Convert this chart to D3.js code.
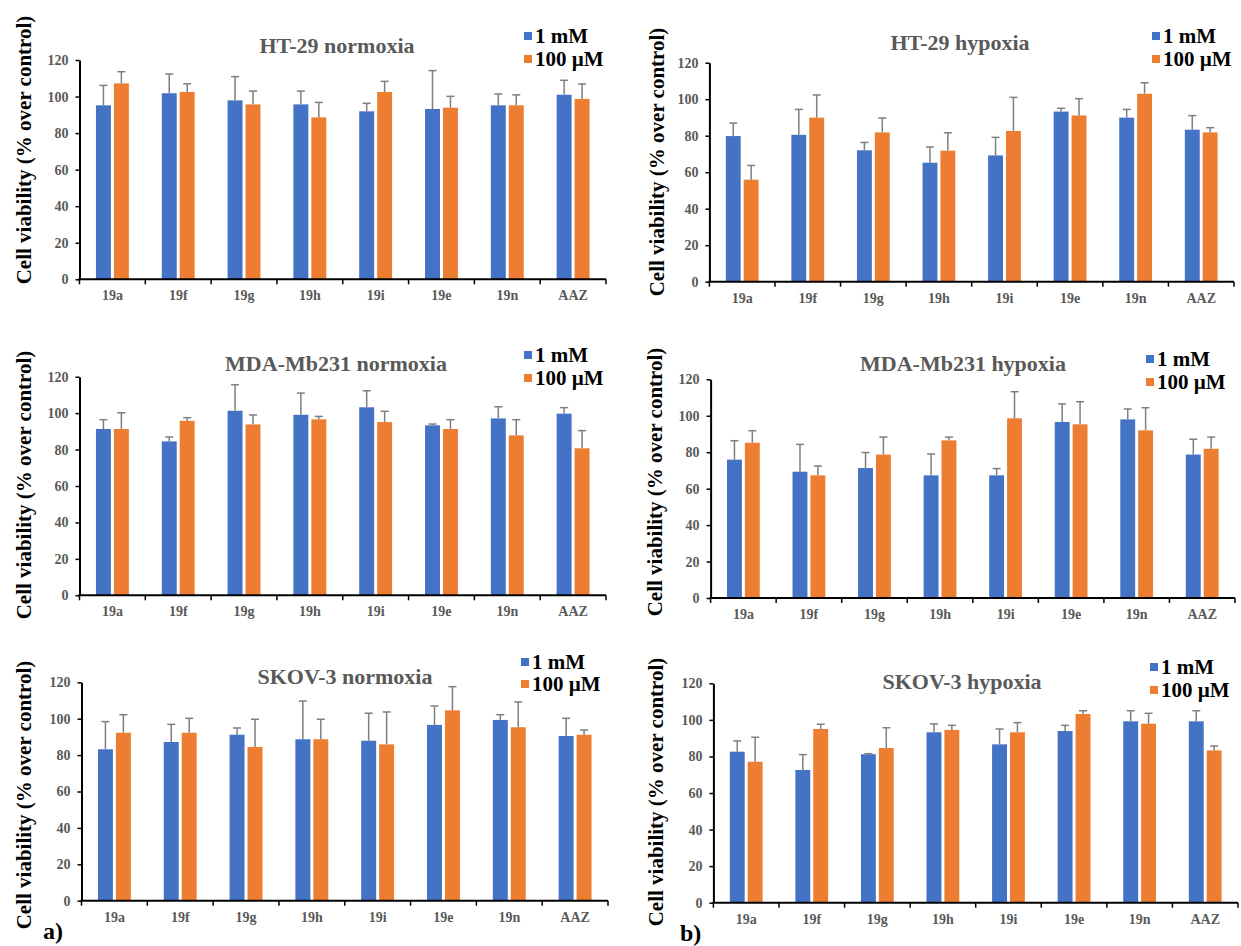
<!DOCTYPE html>
<html>
<head>
<meta charset="utf-8">
<script src="https://cdn.jsdelivr.net/npm/d3@7"></script>
<style>
  html, body { margin: 0; padding: 0; background: #fff; }
  svg { display: block; }
  svg text { font-family: "Liberation Serif", "Times New Roman", "DejaVu Serif", serif; font-weight: bold; }
</style>
</head>
<body>
<svg id="chart" width="1241" height="946"></svg>
<script>
// ---------- data ----------
const categories = ["19a", "19f", "19g", "19h", "19i", "19e", "19n", "AAZ"];
const seriesNames = ["1 mM", "100 µM"];
const yTicks = [0, 20, 40, 60, 80, 100, 120];
const panelTitles = ["HT-29 normoxia", "HT-29 hypoxia", "MDA-Mb231 normoxia", "MDA-Mb231 hypoxia", "SKOV-3 normoxia", "SKOV-3 hypoxia"];
const yAxisTitle = "Cell viability (% over control)";
const panelLetters = ["a)", "b)"];

// HT-29 normoxia
const ht29Norm1mM      = [95.2, 101.8, 97.9, 95.7, 91.9, 93.2, 95.2, 101.0];
const ht29Norm1mMErr   = [10.9, 10.5, 13.0, 7.3, 4.4, 21.0, 6.2, 7.9];
const ht29Norm100uM    = [107.2, 102.5, 95.7, 88.6, 102.5, 93.9, 95.2, 98.7];
const ht29Norm100uMErr = [6.4, 4.5, 7.3, 8.2, 5.8, 6.2, 5.7, 8.2];
// HT-29 hypoxia
const ht29Hyp1mM       = [79.8, 80.5, 72.0, 65.2, 69.2, 93.2, 89.9, 83.3];
const ht29Hyp1mMErr    = [7.1, 13.9, 4.3, 8.6, 9.9, 1.8, 4.5, 7.7];
const ht29Hyp100uM     = [55.9, 89.9, 81.8, 71.8, 82.6, 91.1, 103.0, 81.8];
const ht29Hyp100uMErr  = [7.8, 12.4, 7.9, 9.8, 18.4, 9.2, 6.0, 2.6];
// MDA-Mb231 normoxia
const mdaNorm1mM       = [91.3, 84.5, 101.3, 99.1, 103.2, 93.3, 97.1, 99.7];
const mdaNorm1mMErr    = [5.1, 2.4, 14.3, 11.9, 9.1, 0.7, 6.4, 3.3];
const mdaNorm100uM     = [91.3, 95.8, 93.8, 96.6, 95.1, 91.3, 87.8, 80.7];
const mdaNorm100uMErr  = [8.9, 1.7, 5.2, 1.6, 5.9, 5.1, 8.6, 9.7];
// MDA-Mb231 hypoxia
const mdaHyp1mM        = [75.9, 69.3, 71.3, 67.3, 67.3, 96.6, 98.0, 78.7];
const mdaHyp1mMErr     = [10.4, 15.0, 8.5, 11.7, 3.7, 9.9, 5.7, 8.4];
const mdaHyp100uM      = [85.2, 67.3, 78.7, 86.5, 98.6, 95.3, 92.0, 81.9];
const mdaHyp100uMErr   = [6.6, 5.1, 9.6, 1.8, 14.6, 12.4, 12.4, 6.4];
// SKOV-3 normoxia
const skovNorm1mM      = [83.2, 87.2, 91.2, 88.7, 87.9, 96.6, 99.3, 90.5];
const skovNorm1mMErr   = [15.2, 9.7, 3.7, 21.0, 15.1, 10.4, 2.9, 9.7];
const skovNorm100uM    = [92.3, 92.3, 84.5, 88.7, 85.9, 104.6, 95.3, 91.2];
const skovNorm100uMErr = [9.9, 7.9, 15.2, 11.0, 17.8, 13.0, 13.9, 2.6];
// SKOV-3 hypoxia
const skovHyp1mM       = [82.6, 72.6, 81.2, 93.2, 86.6, 93.9, 99.2, 99.2];
const skovHyp1mMErr    = [5.9, 8.4, 0.3, 4.6, 8.4, 3.1, 5.8, 5.8];
const skovHyp100uM     = [77.1, 95.0, 84.6, 94.5, 93.2, 103.2, 97.9, 83.3];
const skovHyp100uMErr  = [13.4, 2.6, 11.1, 2.5, 5.3, 1.8, 5.7, 2.4];

// ---------- layout (positions only) ----------
const FONT = "'Liberation Serif', 'Times New Roman', 'DejaVu Serif', serif";
const colors = ["#4472C4", "#ED7D31"];
const layouts = [
  {left: 79.5,  right: 606,  top: 60,    bottom: 279.3, titleX: 337, titleY: 45,  legX: 524,  legY1: 36,  legY2: 59,  yTitleX: 24,  yTitleY: 150},
  {left: 709.4, right: 1234, top: 62.7,  bottom: 281.7, titleX: 960, titleY: 42,  legX: 1152, legY1: 36,  legY2: 59,  yTitleX: 657, yTitleY: 162},
  {left: 79.5,  right: 606,  top: 376.7, bottom: 595.3, titleX: 336, titleY: 363, legX: 524,  legY1: 355, legY2: 378, yTitleX: 24,  yTitleY: 485},
  {left: 710.6, right: 1235, top: 379.3, bottom: 598,   titleX: 963, titleY: 363, legX: 1146, legY1: 359, legY2: 382, yTitleX: 655, yTitleY: 482},
  {left: 81.5,  right: 608,  top: 682.3, bottom: 900.7, titleX: 345, titleY: 676, legX: 521,  legY1: 662, legY2: 684, yTitleX: 24,  yTitleY: 795},
  {left: 713.4, right: 1238, top: 683.3, bottom: 902.7, titleX: 962, titleY: 681, legX: 1150, legY1: 667, legY2: 690, yTitleX: 656, yTitleY: 792}
];
const letterPos = [{x: 43, y: 931}, {x: 680, y: 933}];

const panelData = [
  [ht29Norm1mM, ht29Norm1mMErr, ht29Norm100uM, ht29Norm100uMErr],
  [ht29Hyp1mM, ht29Hyp1mMErr, ht29Hyp100uM, ht29Hyp100uMErr],
  [mdaNorm1mM, mdaNorm1mMErr, mdaNorm100uM, mdaNorm100uMErr],
  [mdaHyp1mM, mdaHyp1mMErr, mdaHyp100uM, mdaHyp100uMErr],
  [skovNorm1mM, skovNorm1mMErr, skovNorm100uM, skovNorm100uMErr],
  [skovHyp1mM, skovHyp1mMErr, skovHyp100uM, skovHyp100uMErr]
];

const svg = d3.select("#chart");

panelData.forEach((pd, pi) => {
  const L = layouts[pi];
  const g = svg.append("g");

  const x = d3.scaleBand().domain(categories).range([L.left, L.right]).padding(0);
  const step = x.step();
  const groupW = step * 0.5;
  const x1 = d3.scaleBand().domain(seriesNames)
    .range([(step - groupW) / 2, (step + groupW) / 2]).paddingInner(3 / 18).paddingOuter(0);
  const y = d3.scaleLinear().domain([0, 120]).range([L.bottom, L.top]);

  const rows = [];
  categories.forEach((c, i) => {
    seriesNames.forEach((s, si) => {
      rows.push({cat: c, series: s, si, value: pd[si * 2][i], err: pd[si * 2 + 1][i]});
    });
  });

  // bars
  g.selectAll("rect.bar").data(rows).join("rect")
    .attr("class", "bar")
    .attr("x", d => x(d.cat) + x1(d.series))
    .attr("width", x1.bandwidth())
    .attr("y", d => y(d.value))
    .attr("height", d => y(0) - y(d.value))
    .attr("fill", d => colors[d.si]);

  // error bars (upper)
  const capW = 8;
  const eg = g.selectAll("g.err").data(rows).join("g").attr("class", "err")
    .attr("stroke", "#7f7f7f").attr("stroke-width", 1.5);
  eg.append("line")
    .attr("x1", d => x(d.cat) + x1(d.series) + x1.bandwidth() / 2)
    .attr("x2", d => x(d.cat) + x1(d.series) + x1.bandwidth() / 2)
    .attr("y1", d => y(d.value))
    .attr("y2", d => y(d.value + d.err));
  eg.append("line")
    .attr("x1", d => x(d.cat) + x1(d.series) + x1.bandwidth() / 2 - capW / 2)
    .attr("x2", d => x(d.cat) + x1(d.series) + x1.bandwidth() / 2 + capW / 2)
    .attr("y1", d => y(d.value + d.err))
    .attr("y2", d => y(d.value + d.err));

  // y axis
  const ya = g.append("g").attr("transform", `translate(${L.left},0)`)
    .call(d3.axisLeft(y).tickValues(yTicks).tickSize(4).tickSizeOuter(0).tickPadding(7));
  ya.attr("font-family", FONT);
  ya.select(".domain").attr("stroke", "#000").attr("stroke-width", 2);
  ya.selectAll(".tick line").attr("stroke", "#000").attr("stroke-width", 1.5);
  ya.selectAll(".tick text").attr("fill", "#595959").style("font-size", "14px")
    .style("font-family", FONT).style("font-weight", "bold");

  // x axis (labels), boundary ticks
  const xa = g.append("g").attr("transform", `translate(0,${L.bottom})`)
    .call(d3.axisBottom(x).tickSize(0).tickSizeOuter(0).tickPadding(11));
  xa.attr("font-family", FONT);
  xa.select(".domain").remove();
  xa.selectAll(".tick text").attr("fill", "#595959").style("font-size", "14px")
    .style("font-family", FONT).style("font-weight", "bold");
  g.append("line").attr("x1", L.left - 1).attr("x2", L.right)
    .attr("y1", L.bottom).attr("y2", L.bottom).attr("stroke", "#000").attr("stroke-width", 2);
  const bounds = categories.map(c => x(c)).concat([x.range()[1]]);
  g.selectAll("line.xt").data(bounds).join("line").attr("class", "xt")
    .attr("x1", d => d).attr("x2", d => d)
    .attr("y1", L.bottom).attr("y2", L.bottom + 5)
    .attr("stroke", "#000").attr("stroke-width", 1.5);

  // title
  g.append("text").attr("x", L.titleX).attr("y", L.titleY)
    .attr("text-anchor", "middle").attr("dominant-baseline", "central")
    .attr("fill", "#595959").style("font-size", "22px").style("font-family", FONT)
    .text(panelTitles[pi]);

  // legend
  [L.legY1, L.legY2].forEach((ly, si) => {
    g.append("rect").attr("x", L.legX).attr("y", ly - 4).attr("width", 8).attr("height", 8)
      .attr("fill", colors[si]);
    g.append("text").attr("x", L.legX + 11).attr("y", ly)
      .attr("dominant-baseline", "central").attr("fill", "#000")
      .style("font-size", "21px").style("font-family", FONT).text(seriesNames[si]);
  });

  // y axis title
  g.append("text")
    .attr("transform", `translate(${L.yTitleX},${L.yTitleY}) rotate(-90)`)
    .attr("text-anchor", "middle").attr("dominant-baseline", "central")
    .attr("fill", "#000").style("font-size", "21px").style("font-family", FONT)
    .text(yAxisTitle);
});

panelLetters.forEach((t, i) => {
  svg.append("text").attr("x", letterPos[i].x).attr("y", letterPos[i].y)
    .attr("dominant-baseline", "central").attr("fill", "#000")
    .style("font-size", "24px").style("font-family", FONT).text(t);
});
</script>
</body>
</html>
